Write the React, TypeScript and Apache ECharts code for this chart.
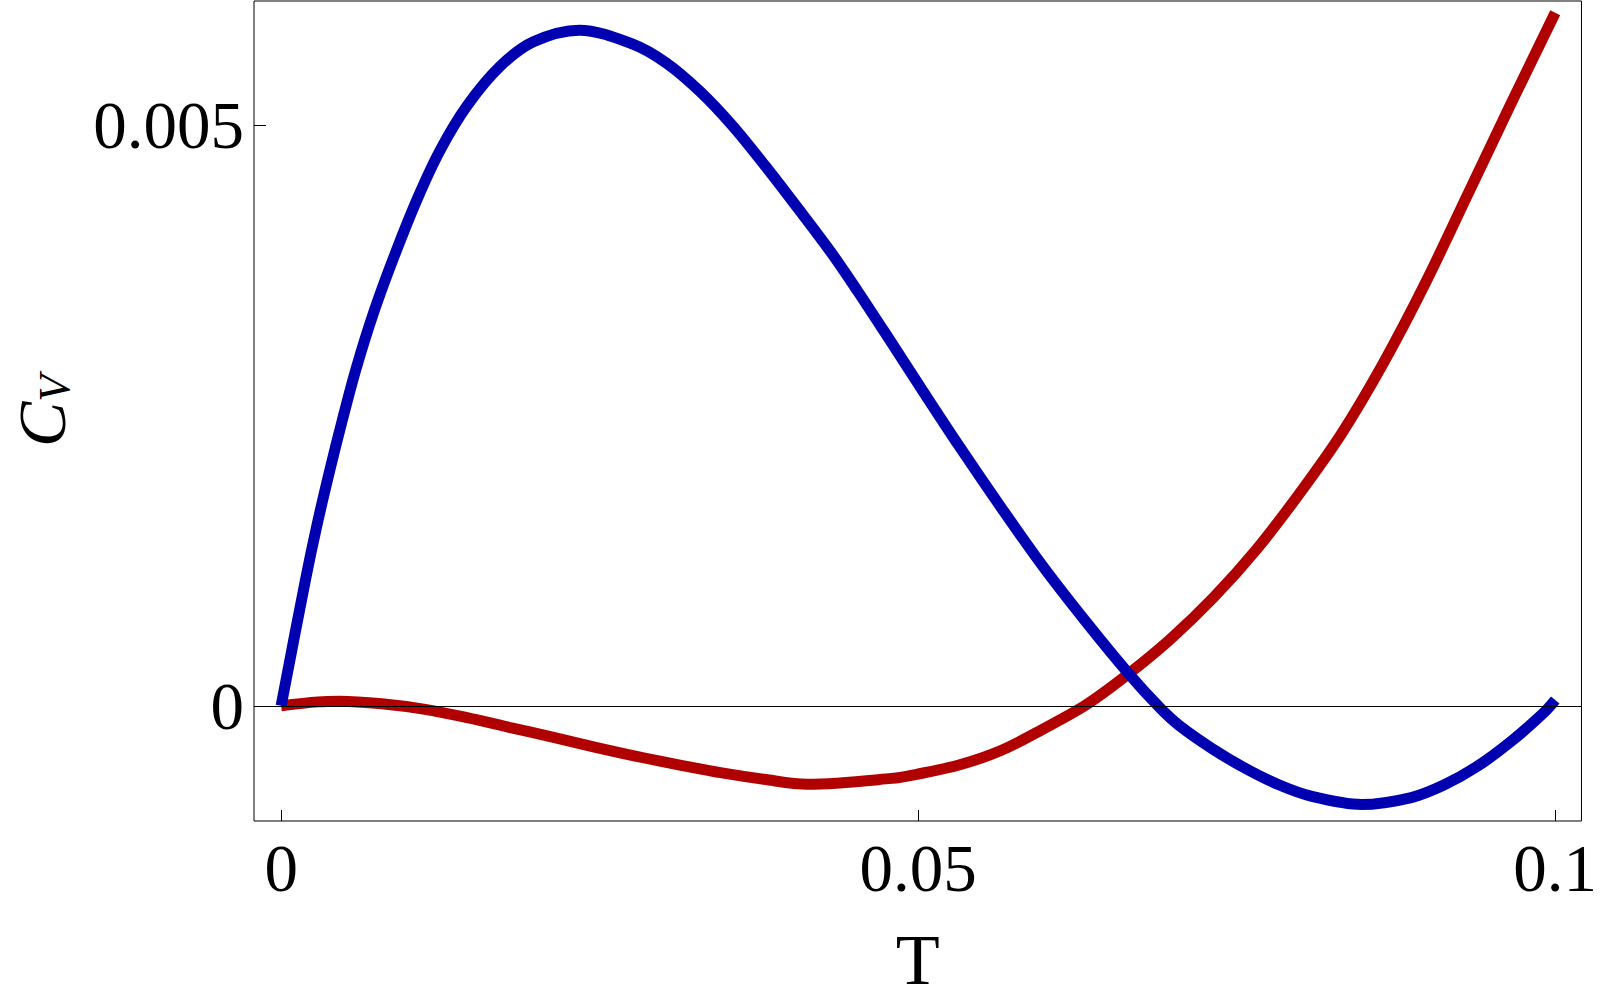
import React, { useEffect, useRef } from "react";
import * as echarts from "echarts";

// Tick values and labels
const xTicks = [0, 0.05, 0.1];
const xTickLabels = ["0", "0.05", "0.1"];
const yTicks = [0, 0.005];
const yTickLabels = ["0", "0.005"];

// Blue curve (T, C_V)
const blueT = [0, 0.0019, 0.0028, 0.0038, 0.0048, 0.0059, 0.0073, 0.0089, 0.0107, 0.0125, 0.0146, 0.0172, 0.0198, 0.0234, 0.0276, 0.0302, 0.0328, 0.0354, 0.038, 0.0406, 0.0432, 0.0452, 0.0473, 0.0502, 0.0532, 0.0565, 0.0598, 0.0632, 0.0665, 0.069, 0.0705, 0.0731, 0.0757, 0.0783, 0.0809, 0.0848, 0.0887, 0.0913, 0.0939, 0.0965, 0.0991, 0.1];
const blueC = [0, 0.00108, 0.00155, 0.00202, 0.00246, 0.00291, 0.0034, 0.00388, 0.00437, 0.00479, 0.00517, 0.00551, 0.00572, 0.00582, 0.0057, 0.00554, 0.0053, 0.005, 0.00465, 0.00428, 0.0039, 0.00358, 0.00323, 0.00274, 0.00224, 0.00171, 0.0012, 0.00072, 0.00028, -0.00002, -0.00017, -0.00037, -0.00054, -0.00068, -0.00078, -0.00085, -0.00079, -0.00068, -0.00052, -0.00031, -0.00006, 0.00005];

// Red curve (T, C_V)
const redT = [0, 0.0029, 0.0046, 0.0079, 0.0113, 0.0146, 0.0179, 0.0213, 0.0246, 0.0279, 0.0313, 0.0346, 0.0379, 0.0413, 0.0479, 0.05, 0.0532, 0.0565, 0.0598, 0.0632, 0.0665, 0.0698, 0.0732, 0.0765, 0.0798, 0.0832, 0.0865, 0.0898, 0.0932, 0.0965, 0.1];
const redC = [0, 0.000034, 0.00004, 0.000018, -0.00003, -0.000102, -0.000185, -0.00027, -0.000355, -0.000435, -0.00051, -0.000578, -0.000633, -0.000675, -0.000625, -0.000587, -0.00051, -0.000385, -0.0002, 0.00001, 0.000275, 0.000575, 0.000935, 0.00134, 0.00181, 0.00234, 0.00295, 0.00364, 0.00442, 0.00518, 0.00597];

const X_RANGE = [-0.00213, 0.10206];
const Y_RANGE = [-0.000992, 0.006071];

const FONT = "'Liberation Serif', 'Times New Roman', Times, serif";

function labelFor(ticks: number[], labels: string[]) {
  return (v: number) => {
    const i = ticks.findIndex((t) => Math.abs(t - v) < 1e-9);
    return i >= 0 ? labels[i] : "";
  };
}

export default function App() {
  const ref = useRef<HTMLDivElement>(null);

  useEffect(() => {
    if (!ref.current) return;
    const chart = echarts.init(ref.current, null, { renderer: "svg" });
    chart.setOption({
      animation: false,
      backgroundColor: "#ffffff",
      grid: {
        show: true,
        left: 249,
        top: 1,
        width: 1336,
        height: 824,
        borderColor: "#000",
        borderWidth: 1,
        backgroundColor: "transparent",
      },
      xAxis: {
        type: "value",
        min: X_RANGE[0],
        max: X_RANGE[1],
        position: "bottom",
        axisLine: { show: false, onZero: false },
        splitLine: { show: false },
        axisTick: {
          show: true,
          inside: true,
          length: 11,
          customValues: xTicks,
          lineStyle: { color: "#000", width: 1 },
        },
        axisLabel: {
          show: true,
          customValues: xTicks,
          formatter: labelFor(xTicks, xTickLabels),
          fontFamily: FONT,
          fontSize: 67,
          lineHeight: 67,
          color: "#000",
          margin: 13,
        },
        name: "T",
        nameLocation: "middle",
        nameGap: 103,
        nameTextStyle: {
          fontFamily: FONT,
          fontSize: 72,
          lineHeight: 72,
          color: "#000",
        },
      },
      yAxis: {
        type: "value",
        min: Y_RANGE[0],
        max: Y_RANGE[1],
        position: "left",
        axisLine: { show: false, onZero: false },
        splitLine: { show: false },
        axisTick: {
          show: true,
          inside: true,
          length: 12,
          customValues: yTicks,
          lineStyle: { color: "#000", width: 1 },
        },
        axisLabel: {
          show: true,
          customValues: yTicks,
          formatter: labelFor(yTicks, yTickLabels),
          fontFamily: FONT,
          fontSize: 67,
          color: "#000",
          margin: 10,
        },
        name: "{c|C}{v|V}",
        nameLocation: "middle",
        nameRotate: 90,
        nameGap: 178,
        nameTextStyle: {
          color: "#000",
          rich: {
            c: {
              fontFamily: FONT,
              fontStyle: "italic",
              fontSize: 68,
              lineHeight: 68,
              verticalAlign: "bottom",
              color: "#000",
            },
            v: {
              fontFamily: FONT,
              fontStyle: "italic",
              fontSize: 44,
              lineHeight: 36,
              verticalAlign: "bottom",
              color: "#000",
            },
          },
        },
      },
      series: [
        {
          name: "red",
          type: "line",
          data: redT.map((t, i) => [t, redC[i]]),
          showSymbol: false,
          smooth: 0.33,
          lineStyle: { color: "#b00000", width: 11, cap: "butt" },
          z: 2,
          silent: true,
        },
        {
          name: "blue",
          type: "line",
          data: blueT.map((t, i) => [t, blueC[i]]),
          showSymbol: false,
          smooth: 0.33,
          lineStyle: { color: "#0000b0", width: 11, cap: "butt" },
          z: 3,
          silent: true,
        },
        {
          name: "zero",
          type: "line",
          data: [],
          z: 4,
          silent: true,
          markLine: {
            silent: true,
            symbol: ["none", "none"],
            label: { show: false },
            lineStyle: { color: "#000", width: 1, type: "solid" },
            data: [{ yAxis: 0 }],
          },
        },
      ],
    });
    return () => chart.dispose();
  }, []);

  return (
    <div
      ref={ref}
      style={{ position: "fixed", left: 0, top: 0, width: 1600, height: 1001, background: "#fff" }}
    />
  );
}
